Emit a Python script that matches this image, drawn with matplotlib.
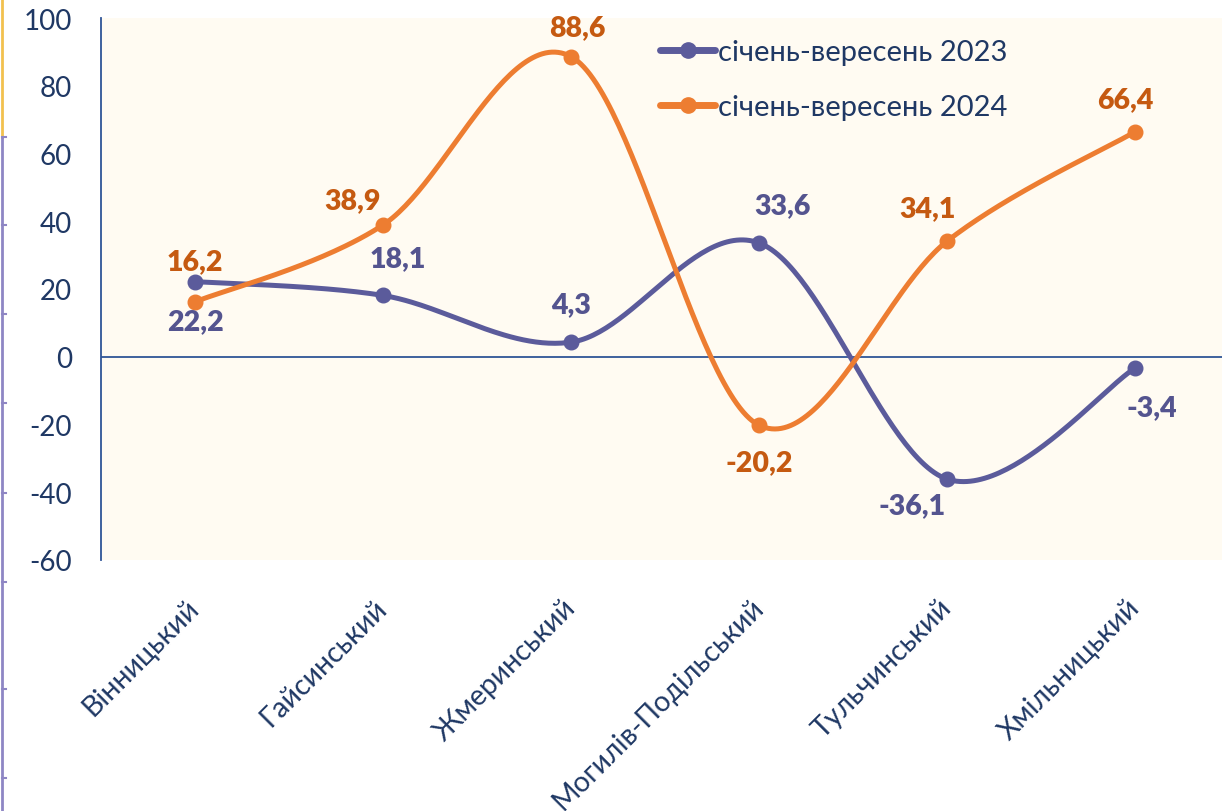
import numpy as np
import matplotlib
matplotlib.use("Agg")
import matplotlib.pyplot as plt
from matplotlib.lines import Line2D

categories = ["Вінницький", "Гайсинський", "Жмеринський", "Могилів-Подільський", "Тульчинський", "Хмільницький"]
series_2023 = [22.2, 18.1, 4.3, 33.6, -36.1, -3.4]
series_2024 = [16.2, 38.9, 88.6, -20.2, 34.1, 66.4]
name_2023 = "січень-вересень 2023"
name_2024 = "січень-вересень 2024"
yticks = [-60, -40, -20, 0, 20, 40, 60, 80, 100]

C23 = "#5B5B9B"
L23 = "#54548F"
C24 = "#ED7D31"
L24 = "#C55A11"
TXT = "#1F3864"
AX = "#2F5597"

plt.rcParams['font.family'] = ['Lato', 'DejaVu Sans']

def smooth(x, y, n=60):
    x = np.asarray(x, float); y = np.asarray(y, float)
    P = np.column_stack([x, y])
    out = []
    m = len(P)
    for i in range(m - 1):
        p0 = P[i - 1] if i > 0 else P[i]
        p1 = P[i]; p2 = P[i + 1]
        p3 = P[i + 2] if i + 2 < m else P[i + 1]
        c1 = p1 + (p2 - p0) / 6.0
        c2 = p2 - (p3 - p1) / 6.0
        t = np.linspace(0, 1, n)[:, None]
        seg = (1 - t) ** 3 * p1 + 3 * (1 - t) ** 2 * t * c1 + 3 * (1 - t) * t ** 2 * c2 + t ** 3 * p2
        out.append(seg if i == 0 else seg[1:])
    s = np.vstack(out)
    return s[:, 0], s[:, 1]

W, H = 1222, 812
fig = plt.figure(figsize=(W / 100, H / 100), dpi=100)
left, right, top, bottom = 101, 1229, 19, 561
ax = fig.add_axes([left / W, 1 - bottom / H, (right - left) / W, (bottom - top) / H])
ax.set_facecolor("#FFFBF2")

x = np.arange(len(categories))
for ys, c in [(series_2023, C23), (series_2024, C24)]:
    sx, sy = smooth(x, ys)
    ax.plot(sx, sy, color=c, lw=3.6, solid_capstyle='round', zorder=3)
    ax.plot(x, ys, 'o', color=c, ms=10.5, zorder=4)

ax.set_xlim(-0.5, len(categories) - 0.5)
ax.set_ylim(-60, 100)
ax.axhline(0, color=AX, lw=1.3, zorder=2)
ax.set_yticks(yticks)
ax.set_yticklabels([str(v) for v in yticks])
ax.set_xticks(x)
ax.set_xticklabels(categories, rotation=45, ha='right', va='center', rotation_mode='anchor')
ax.tick_params(axis='y', length=0, pad=21, labelsize=20, labelcolor=TXT)
ax.tick_params(axis='x', length=0, pad=31, labelsize=20.5, labelcolor=TXT)
for s in ['top', 'right', 'bottom']:
    ax.spines[s].set_visible(False)
ax.spines['left'].set_color(AX)
ax.spines['left'].set_linewidth(1.3)

# data labels (offsets in pixels)
off23 = [(0, -40), (15, 37), (0, 38), (24, 38), (-35, -26), (17, -39)]
off24 = [(0, 41), (-30, 25), (6, 29), (0, -37), (-19, 33), (-10, 33)]
for i, v in enumerate(series_2023):
    ax.annotate(f"{v:.1f}".replace('.', ','), (x[i], v), xytext=off23[i], textcoords='offset pixels',
                ha='center', va='center', fontsize=20.5, fontweight='heavy', color=L23, zorder=5)
for i, v in enumerate(series_2024):
    ax.annotate(f"{v:.1f}".replace('.', ','), (x[i], v), xytext=off24[i], textcoords='offset pixels',
                ha='center', va='center', fontsize=20.5, fontweight='heavy', color=L24, zorder=5)

handles = [Line2D([], [], color=C23, lw=5, marker='o', ms=11, solid_capstyle='round'),
           Line2D([], [], color=C24, lw=5, marker='o', ms=11, solid_capstyle='round')]
leg = ax.legend(handles, [name_2023, name_2024], loc='upper left',
                bbox_to_anchor=((660 - left) / (right - left), 1 - (21) / (bottom - top)),
                frameon=False, fontsize=21, labelcolor=TXT, handlelength=1.9, handletextpad=0.1,
                labelspacing=1.0, borderaxespad=0, borderpad=0)

# left decoration strip
fig.add_artist(Line2D([2 / W, 2 / W], [1, 1 - 138 / H], color="#F2C14E", lw=2))
fig.add_artist(Line2D([2 / W, 2 / W], [1 - 138 / H, 0], color="#8E86C4", lw=2))
for ty in [138, 226, 315, 404, 494, 583, 690, 779]:
    fig.add_artist(Line2D([2 / W, 6 / W], [1 - ty / H, 1 - ty / H], color="#8E86C4", lw=1.5))

fig.savefig("out.png", dpi=100)
